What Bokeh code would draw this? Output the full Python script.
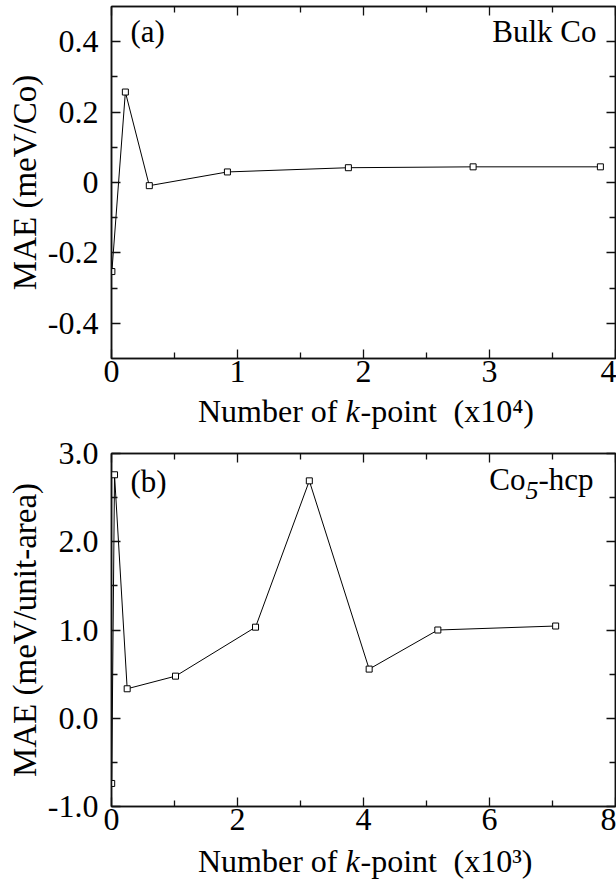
from bokeh.plotting import figure
from bokeh.models import Range1d, LinearAxis, FixedTicker, Label
from bokeh.layouts import column
from bokeh.core.properties import value
from bokeh.embed import file_html
from bokeh.resources import INLINE

FONT = "Liberation Serif"

# ---------------- data: panel (a) Bulk Co ----------------
kpts_a = [0.003, 0.11, 0.30, 0.92, 1.88, 2.87, 3.88]          # x10^4
mae_a = [-0.253, 0.257, -0.009, 0.030, 0.042, 0.0445, 0.0445]   # meV/Co
xticks_a = [0, 1, 2, 3, 4]
xtick_labels_a = ["0", "1", "2", "3", "4"]
xminor_a = [0.5, 1.5, 2.5, 3.5]
yticks_a = [-0.4, -0.2, 0, 0.2, 0.4]
ytick_labels_a = ["-0.4", "-0.2", "0", "0.2", "0.4"]
yminor_a = [-0.3, -0.1, 0.1, 0.3]

# ---------------- data: panel (b) Co5-hcp ----------------
kpts_b = [0.003, 0.048, 0.249, 1.016, 2.286, 3.14, 4.09, 5.18, 7.05]   # x10^3
mae_b = [-0.739, 2.759, 0.334, 0.477, 1.032, 2.69, 0.557, 1.0, 1.045]  # meV/unit-area
xticks_b = [0, 2, 4, 6, 8]
xtick_labels_b = ["0", "2", "4", "6", "8"]
xminor_b = [1, 3, 5, 7]
yticks_b = [-1.0, 0.0, 1.0, 2.0, 3.0]
ytick_labels_b = ["-1.0", "0.0", "1.0", "2.0", "3.0"]
yminor_b = [-0.5, 0.5, 1.5, 2.5]

W = 616
LEFT = 111
RIGHT = 1


def style_axis(ax, show_labels):
    ax.axis_line_color = "#111111"
    ax.axis_line_width = 1.5
    ax.major_tick_line_color = "#111111"
    ax.minor_tick_line_color = "#111111"
    ax.major_tick_line_width = 1.3
    ax.minor_tick_line_width = 1.3
    ax.major_tick_in = 9
    ax.major_tick_out = 0
    ax.minor_tick_in = 6
    ax.minor_tick_out = 0
    if show_labels:
        ax.major_label_text_font = FONT
        ax.major_label_text_font_size = "32px"
        ax.major_label_text_color = "black"
    else:
        ax.major_label_text_color = None
        ax.major_label_standoff = 0


def make_panel(xs, ys, xr, yr, xt, xtl, xm, yt, ytl, ym, ylabel, h, top, bottom):
    p = figure(width=W, height=h, output_backend="svg", toolbar_location=None,
               x_range=Range1d(*xr), y_range=Range1d(*yr),
               min_border_left=LEFT, min_border_right=RIGHT,
               min_border_top=top, min_border_bottom=bottom)
    p.xgrid.visible = False
    p.ygrid.visible = False
    p.outline_line_color = "#111111"
    p.outline_line_width = 1.5
    p.background_fill_color = "white"
    p.border_fill_color = "white"

    xa = p.xaxis[0]
    xa.ticker = FixedTicker(ticks=xt, minor_ticks=xm)
    xa.major_label_overrides = {v: s for v, s in zip(xt, xtl)}
    xa.major_label_standoff = 2
    style_axis(xa, True)

    ya = p.yaxis[0]
    ya.ticker = FixedTicker(ticks=yt, minor_ticks=ym)
    ya.major_label_overrides = {v: s for v, s in zip(yt, ytl)}
    ya.major_label_standoff = 13
    style_axis(ya, True)
    ya.axis_label = ylabel
    ya.axis_label_text_font = FONT
    ya.axis_label_text_font_size = "33px"
    ya.axis_label_text_font_style = "normal"
    ya.axis_label_text_color = "black"
    ya.axis_label_standoff = 2

    ra = LinearAxis(ticker=FixedTicker(ticks=yt, minor_ticks=ym))
    style_axis(ra, False)
    p.add_layout(ra, "right")
    ta = LinearAxis(ticker=FixedTicker(ticks=xt, minor_ticks=xm))
    style_axis(ta, False)
    p.add_layout(ta, "above")

    p.line(xs, ys, line_color="black", line_width=1)
    p.scatter(xs, ys, marker="square", size=6, fill_color="white",
              line_color="black", line_width=1)
    return p


def add_tag(p, xr, yr, tag, dy):
    p.add_layout(Label(x=xr[0], y=yr[1], x_offset=19, y_offset=-dy, text=tag,
                       text_font=FONT, text_font_size="31px", text_color="black",
                       text_baseline="alphabetic", text_align="left"))


def add_title(p, xr, yr, parts, dy):
    # parts: (text, size, style, extra_drop, width_em), laid out right-to-left
    off = -19 if len(parts) == 1 else -22
    for text, size, style, drop, wem in reversed(parts):
        p.add_layout(Label(x=xr[1], y=yr[1], x_offset=off, y_offset=-dy - drop,
                           text=text, text_font=FONT, text_font_size=f"{size}px",
                           text_font_style=style, text_color="black",
                           text_baseline="alphabetic", text_align="right"))
        off -= wem * size


def make_xlabel(h, baseline, sup, overlap):
    # strip below a panel holding the x-axis title (mixed roman / italic text);
    # its frame is aligned with the panel frame, coordinates are canvas pixels
    f = figure(width=W, height=h, output_backend="svg", toolbar_location=None,
               x_range=Range1d(LEFT, W - RIGHT), y_range=Range1d(0, h),
               x_axis_type=None, y_axis_type=None,
               min_border_left=LEFT, min_border_right=RIGHT,
               min_border_top=0, min_border_bottom=0,
               margin=(-overlap, 0, 0, 0))
    f.outline_line_color = None
    f.background_fill_color = None
    f.border_fill_color = None
    fs = "32px"
    kx = 345
    yb = [h - baseline]
    common = dict(text_font=value(FONT), text_font_size=fs, text_color="black",
                  text_baseline="alphabetic")
    f.text(x=[kx - 8], y=yb, text=["Number of"], text_align="right", **common)
    f.text(x=[kx], y=yb, text=["k"], text_font_style="italic", text_align="left", **common)
    f.text(x=[kx + 15], y=yb, text=["-point"], text_align="left", **common)
    f.text(x=[453], y=yb, text=["(x10" + sup + ")"], text_align="left", **common)
    return f


pa = make_panel(kpts_a, mae_a, (0, 4), (-0.5, 0.5), xticks_a, xtick_labels_a, xminor_a,
                yticks_a, ytick_labels_a, yminor_a, "MAE (meV/Co)", 400, 6, 42)
add_tag(pa, (0, 4), (-0.5, 0.5), "(a)", 25)
add_title(pa, (0, 4), (-0.5, 0.5), [("Bulk Co", 31, "normal", 0, 3.36)], 25)
la = make_xlabel(41, 19, "\u2074", 9)

pb = make_panel(kpts_b, mae_b, (0, 8), (-1.0, 3.0), xticks_b, xtick_labels_b, xminor_b,
                yticks_b, ytick_labels_b, yminor_b, "MAE (meV/unit-area)", 416, 21, 42)
add_tag(pb, (0, 8), (-1.0, 3.0), "(b)", 28)
add_title(pb, (0, 8), (-1.0, 3.0),
          [("Co", 31, "normal", 0, 1.167), ("5", 26, "italic", 11, 0.5),
           ("-hcp", 31, "normal", 0, 1.777)], 26)
lb = make_xlabel(42, 19, "\u00b3", 7)

layout = column(pa, la, pb, lb, spacing=0)
open("out.html", "w").write(file_html(layout, INLINE))
